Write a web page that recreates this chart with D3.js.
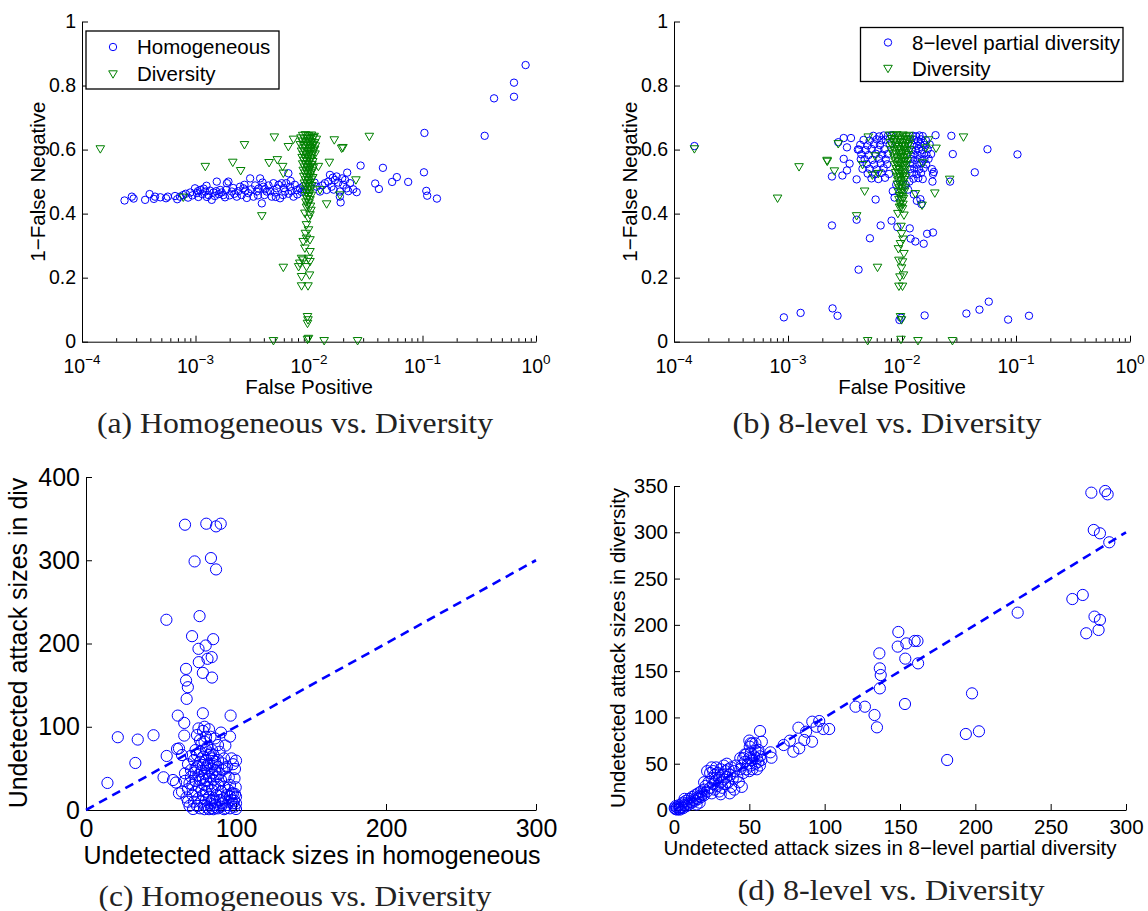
<!DOCTYPE html>
<html><head><meta charset="utf-8">
<script src="https://cdn.jsdelivr.net/npm/d3@7"></script>
<style>body{margin:0;background:#fff;} svg{display:block}</style>
</head><body>
<svg id="chart" width="1148" height="911"></svg>
<script>
// ---------------- DATA ----------------
// Panel (a): [False Positive, 1-False Negative]
const homogeneousA = [
[0.81,0.864],[0.64,0.809],[0.64,0.765],[0.427,0.76],[0.353,0.643],[0.104,0.652],[0.103,0.529],[0.108,0.471],[0.11,0.456],[0.134,0.447],
[0.0748,0.499],[0.0594,0.514],[0.054,0.499],[0.0448,0.543],[0.0383,0.494],[0.0413,0.477],[0.0285,0.55],[0.0217,0.528],[0.0263,0.467],[0.019,0.435],[0.0245,0.476],
[0.0117,0.484],[0.0125,0.469],[0.0138,0.495],[0.0143,0.474],[0.0153,0.521],[0.0158,0.484],[0.0169,0.505],[0.0175,0.516],[0.0181,0.497],[0.0187,0.469],[0.02,0.49],
[0.0214,0.479],[0.023,0.495],[0.0187,0.453],[0.0162,0.512],[0.0148,0.5],[0.0131,0.488],[0.0112,0.497],[0.0208,0.505],[0.0222,0.47],[0.0196,0.51],[0.0165,0.475],
[2.37e-4,0.441],[2.75e-4,0.453],[2.85e-4,0.447],[3.6e-4,0.443],[3.94e-4,0.461],[4.3e-4,0.446],[4.4e-4,0.453],[4.9e-4,0.451],[5.5e-4,0.448],[5.7e-4,0.453],
[6.6e-4,0.455],[6.9e-4,0.445],[7.3e-4,0.453],[7.8e-4,0.458],[9.0e-4,0.466],[9.9e-4,0.479],[1.03e-3,0.464],[1.1e-3,0.474],[1.22e-3,0.469],[1.3e-3,0.458],
[1.39e-3,0.443],[1.44e-3,0.466],[1.54e-3,0.5],[1.65e-3,0.474],[1.76e-3,0.458],[1.89e-3,0.495],[1.95e-3,0.5],[2.09e-3,0.469],[2.31e-3,0.453],[2.47e-3,0.484],
[2.64e-3,0.479],[2.92e-3,0.464],[3.03e-3,0.51],[3.24e-3,0.453],[3.46e-3,0.469],[3.71e-3,0.51],[3.84e-3,0.432],[3.97e-3,0.484],[4.24e-3,0.469],[4.7e-3,0.453],
[4.86e-3,0.495],[5.2e-3,0.479],[5.56e-3,0.448],[5.75e-3,0.495],[6.15e-3,0.469],[6.58e-3,0.526],[6.8e-3,0.484],[7.3e-3,0.453],[7.8e-3,0.474],[8.3e-3,0.479],
[8.2e-4,0.462],[8.6e-4,0.45],[9.4e-4,0.457],[1.06e-3,0.452],[1.15e-3,0.461],[1.18e-3,0.478],[1.26e-3,0.452],[1.34e-3,0.472],[1.48e-3,0.455],[1.52e-3,0.47],
[1.6e-3,0.461],[1.7e-3,0.466],[1.82e-3,0.451],[1.86e-3,0.474],[2.0e-3,0.457],[2.15e-3,0.48],[2.2e-3,0.462],[2.38e-3,0.47],[2.55e-3,0.458],[2.75e-3,0.472],
[2.83e-3,0.449],[3.1e-3,0.476],[3.35e-3,0.488],[3.55e-3,0.457],[3.6e-3,0.478],[4.05e-3,0.458],[4.4e-3,0.488],[4.55e-3,0.47],[5.0e-3,0.466],[5.4e-3,0.49],
[5.9e-3,0.458],[6.3e-3,0.495],[6.6e-3,0.462],[7.0e-3,0.47],[7.5e-3,0.49],[7.9e-3,0.46],[8.6e-3,0.468],[8.9e-3,0.486],[9.2e-3,0.474],[1.25e-3,0.487],
[1.05e-3,0.47],[2.7e-3,0.49],[3.9e-3,0.497],[4.1e-3,0.476],[6.0e-3,0.48],[6.9e-3,0.502],[5.1e-3,0.452]
];
const diversityA = [
[1.45e-4,0.602],[1.22e-3,0.547],[7.8e-4,0.451],[2.13e-3,0.56],[2.5e-3,0.534],[2.7e-3,0.615],[4.95e-3,0.639],[4.45e-3,0.559],[5.26e-3,0.568],[5.86e-3,0.547],
[5.94e-3,0.526],[6.58e-3,0.609],[3.84e-3,0.393],[5.94e-3,0.232],[7.3e-3,0.632],[0.0167,0.63],[0.0194,0.604],[0.0199,0.606],[0.034,0.641],[0.0151,0.56],
[0.0121,0.547],[0.0125,0.474],[0.0143,0.43],[0.0187,0.458],[0.0259,0.505],[4.86e-3,0.003],[0.0136,0.003],[0.0268,0.003],[0.0097,0.007],[0.0099,0.01],
[0.0092,0.401],[0.0102,0.396],[0.0095,0.365],[0.0099,0.349],[0.0095,0.323],[0.0102,0.318],[0.0089,0.3125],[0.0092,0.292],[0.0102,0.281],[0.0086,0.26],
[0.0099,0.26],[0.0089,0.255],[0.0083,0.245],[0.0102,0.25],[0.0081,0.234],[0.0095,0.234],[0.0086,0.203],[0.0101,0.208],[0.0086,0.174],[0.0098,0.174],
[0.0097,0.078],[0.0098,0.068],[0.0097,0.057],[0.0095,0.42],[0.0104,0.41],[0.0099,0.385],[0.0093,0.338],
[0.0088,0.644],[0.0093,0.646],[0.0099,0.643],[0.0105,0.645],[0.0111,0.641],
[0.0085,0.636],[0.0091,0.633],[0.0097,0.638],[0.0103,0.634],[0.0109,0.637],[0.0116,0.632],
[0.0087,0.626],[0.0094,0.622],[0.0099,0.627],[0.0106,0.624],[0.0112,0.621],
[0.0084,0.615],[0.009,0.612],[0.0096,0.617],[0.0102,0.613],[0.0108,0.616],[0.0114,0.611],
[0.0088,0.604],[0.0094,0.607],[0.0101,0.602],[0.0106,0.606],[0.0112,0.601],
[0.0086,0.595],[0.0092,0.592],[0.0098,0.597],[0.0104,0.593],[0.011,0.596],
[0.0089,0.585],[0.0095,0.582],[0.0101,0.587],[0.0107,0.583],[0.0113,0.586],
[0.0087,0.575],[0.0093,0.572],[0.0099,0.577],[0.0105,0.573],
[0.009,0.566],[0.0096,0.563],[0.0102,0.567],[0.0108,0.562],
[0.0088,0.555],[0.0094,0.552],[0.01,0.557],[0.0106,0.553],
[0.0091,0.545],[0.0097,0.542],[0.0103,0.547],[0.0109,0.543],
[0.0089,0.535],[0.0095,0.532],[0.0101,0.537],[0.0107,0.533],
[0.0092,0.526],[0.0098,0.523],[0.0104,0.527],
[0.009,0.516],[0.0096,0.513],[0.0102,0.517],[0.0108,0.512],
[0.0093,0.505],[0.0099,0.502],[0.0105,0.507],
[0.0091,0.495],[0.0097,0.492],[0.0103,0.497],
[0.0094,0.486],[0.01,0.483],[0.0106,0.487],
[0.0092,0.476],[0.0098,0.473],[0.0104,0.477],
[0.0095,0.466],[0.0101,0.463],
[0.0093,0.456],[0.0099,0.453],[0.0105,0.457],
[0.0096,0.446],[0.0102,0.443],
[0.0094,0.436],[0.01,0.433],
[0.0097,0.426],[0.0103,0.423]
];
// Panel (b)
const eightLevelB = [
[1.51e-4,0.611],[9.2e-4,0.076],[1.29e-3,0.09],[2.46e-3,0.104],[2.72e-3,0.081],[2.43e-3,0.363],[4.0e-3,0.381],[4.16e-3,0.225],[5.23e-3,0.323],[5.87e-3,0.444],
[6.5e-3,0.363],[8.1e-3,0.378],[9.1e-3,0.358],[0.0117,0.354],[0.0119,0.322],[0.0131,0.313],[0.0155,0.306],[0.0166,0.337],[0.0187,0.341],[0.0158,0.082],
[0.0367,0.088],[0.0478,0.1],[0.0577,0.125],[0.0853,0.069],[0.13,0.081],[0.0562,0.601],[0.103,0.585],[0.0435,0.529],[0.0279,0.586],[0.0271,0.643],
[0.0264,0.5],[0.0197,0.645],[0.0095,0.068],[0.0098,0.075],
[3.08e-3,0.636],[3.57e-3,0.636],[2.76e-3,0.623],[3.29e-3,0.607],[3.08e-3,0.571],[3.47e-3,0.556],[3.0e-3,0.519],[2.43e-3,0.516],[3.29e-3,0.535],[4.0e-3,0.507],
[4.2e-3,0.6],[4.35e-3,0.57],[4.5e-3,0.54],
[5.6e-3,0.643],[6.3e-3,0.641],[6.9e-3,0.644],[7.5e-3,0.642],[8.1e-3,0.645],[0.0125,0.643],[0.0133,0.641],[0.0142,0.644],[0.0152,0.642],
[4.6e-3,0.63],[5.2e-3,0.628],[6.0e-3,0.632],[6.6e-3,0.629],[7.2e-3,0.631],[0.0128,0.63],[0.0138,0.627],[0.0147,0.632],[0.0162,0.629],
[4.3e-3,0.615],[5.0e-3,0.613],[5.7e-3,0.617],[6.4e-3,0.614],[7.8e-3,0.616],[0.0123,0.615],[0.0135,0.612],[0.0145,0.617],[0.0158,0.614],[0.0175,0.616],
[4.1e-3,0.6],[4.8e-3,0.598],[5.4e-3,0.602],[6.2e-3,0.599],[7.0e-3,0.601],[0.0121,0.6],[0.0131,0.597],[0.0141,0.602],[0.0152,0.599],[0.0168,0.601],
[4.4e-3,0.585],[5.1e-3,0.583],[5.9e-3,0.587],[6.7e-3,0.584],[7.5e-3,0.586],[0.0126,0.585],[0.0137,0.582],[0.0149,0.587],[0.0164,0.584],[0.018,0.586],
[4.7e-3,0.57],[5.5e-3,0.568],[6.3e-3,0.572],[7.2e-3,0.569],[0.0119,0.571],[0.013,0.568],[0.0143,0.572],[0.0157,0.569],[0.0171,0.571],
[4.9e-3,0.555],[5.7e-3,0.553],[6.5e-3,0.557],[7.4e-3,0.554],[0.0124,0.556],[0.0135,0.553],[0.0148,0.557],[0.0163,0.554],
[5.2e-3,0.54],[6.0e-3,0.538],[6.9e-3,0.542],[0.0118,0.539],[0.0128,0.541],[0.0141,0.538],[0.0155,0.542],[0.0183,0.539],
[5.0e-3,0.525],[5.8e-3,0.523],[6.6e-3,0.527],[7.7e-3,0.524],[0.0122,0.526],[0.0134,0.523],[0.0147,0.527],[0.0187,0.524],[0.019,0.53],
[5.4e-3,0.51],[6.2e-3,0.508],[7.1e-3,0.512],[0.0126,0.509],[0.0139,0.511],[0.0152,0.508],
[0.0116,0.5],[0.0185,0.5],
[8.3e-3,0.47],[8.6e-3,0.45],[0.0127,0.46],[0.0135,0.44],[0.0145,0.445],[0.0148,0.43],[0.0108,0.49],[0.0113,0.475],[0.0089,0.49]
];
const diversityB = [
[1.51e-4,0.602],[8.1e-4,0.448],[1.25e-3,0.546],[2.21e-3,0.563],[2.76e-3,0.618],[2.55e-3,0.533],[4.0e-3,0.393],[5.06e-3,0.639],[4.51e-3,0.553],[6.1e-3,0.232],
[5.0e-3,0.003],[9.8e-3,0.007],[0.0138,0.003],[0.0277,0.003],[0.0346,0.639],[0.0262,0.507],[0.0194,0.464],[0.0171,0.63],[0.0199,0.604],[0.0152,0.558],
[0.015,0.426],[0.0131,0.462],[0.0099,0.068],[0.0097,0.078],[2.2e-3,0.566],[5.8e-3,0.58],[6.2e-3,0.525],[4.7e-3,0.47],[5.5e-3,0.52],[0.0162,0.605],
[0.0092,0.4],[0.0104,0.395],[0.0099,0.337],[0.0097,0.306],[0.0104,0.275],[0.0094,0.254],[0.0101,0.249],[0.0096,0.202],[0.0103,0.208],[0.0094,0.173],
[0.0101,0.173],[0.0098,0.36],[0.0102,0.32],[0.0093,0.29],[0.0099,0.23],[0.0095,0.42],
[0.0078,0.645],[0.0084,0.643],[0.009,0.646],[0.0096,0.642],[0.0102,0.645],[0.0108,0.641],[0.0115,0.644],
[0.0081,0.634],[0.0087,0.631],[0.0093,0.636],[0.0099,0.632],[0.0105,0.635],[0.0112,0.63],[0.0118,0.633],
[0.0079,0.622],[0.0085,0.625],[0.0091,0.62],[0.0097,0.624],[0.0103,0.621],[0.0109,0.626],[0.0116,0.619],
[0.0082,0.611],[0.0088,0.614],[0.0094,0.609],[0.01,0.613],[0.0106,0.61],[0.0113,0.612],
[0.008,0.6],[0.0086,0.597],[0.0092,0.602],[0.0098,0.598],[0.0104,0.601],[0.011,0.596],[0.0117,0.599],
[0.0083,0.588],[0.0089,0.585],[0.0095,0.59],[0.0101,0.586],[0.0107,0.589],[0.0114,0.584],
[0.0085,0.576],[0.0091,0.573],[0.0097,0.578],[0.0103,0.574],[0.0109,0.577],
[0.0087,0.564],[0.0093,0.561],[0.0099,0.566],[0.0105,0.562],[0.0111,0.565],
[0.0086,0.552],[0.0092,0.549],[0.0098,0.554],[0.0104,0.55],[0.011,0.553],
[0.0089,0.54],[0.0095,0.537],[0.0101,0.542],[0.0107,0.538],
[0.0088,0.528],[0.0094,0.525],[0.01,0.53],[0.0106,0.526],
[0.009,0.516],[0.0096,0.513],[0.0102,0.518],[0.0108,0.514],
[0.0092,0.504],[0.0098,0.501],[0.0104,0.506],
[0.0091,0.492],[0.0097,0.489],[0.0103,0.494],
[0.0094,0.48],[0.01,0.477],[0.0106,0.482],
[0.0093,0.468],[0.0099,0.465],[0.0105,0.47],
[0.0095,0.456],[0.0101,0.453],
[0.0094,0.444],[0.01,0.441],[0.0103,0.447],
[0.0096,0.432],[0.0102,0.429],
[0.0098,0.42],[0.0101,0.415]
];
// Panel (c): [homogeneous, diversity] undetected attack sizes
const sizesC = [
[66,342.7],[80.2,343.9],[86.7,340.7],[89.8,343.9],[72.4,298.6],[83.3,302.6],[86.7,289],[53.6,228.5],[75.7,232.9],[70.7,208.8],
[84.8,205.2],[75,193.6],[79.8,197.6],[81,181.6],[83.8,183.6],[75.2,177.6],[77.9,164.7],[84,159.1],[66.7,169.5],[66.7,155.5],
[67.9,147.5],[67.1,133.5],[61.2,113.4],[65.5,104.6],[77.9,116.2],[96.4,113.4],[21.2,87.4],[34.5,84.6],[45,89.8],[14.3,32.5],
[32.9,56.5],[53.8,64.9],[51.7,39.3],[96,88.2],[92.9,77.4],[60.7,73.3],[65.5,89.4],[100,59.3],[99.3,49.3],[99.8,27.3],
[99.3,19.2],[98.8,11.2],[100,1.2],[95.2,39.3],[71.4,1.2],
[62,74],[64,66],[58,36],[60,33],[62,20],[64,22],[66,44],[68,25],[68,10],[69,5],[70,48],[72,60],[73,72],[74,90],[75,98],
[76,84],[78,95],[79,100],[80,88],[81,76],[82,97],[83,68],[84,72],[86,86],[88,78],[90,93],[92,62],[94,52],[96,30],[97,20],
[98,8],[99,4],[97,62],[98,55],[99,38],
[70,40],[71,30],[71,18],[72,45],[72,10],[73,35],[73,22],[74,52],[74,5],[75,42],[75,28],[75,14],[76,58],[76,36],[76,2],
[77,47],[77,24],[77,10],[78,54],[78,38],[78,18],[79,44],[79,30],[79,6],[80,60],[80,50],[80,36],[80,22],[80,12],[81,45],
[81,28],[81,3],[82,56],[82,40],[82,16],[83,50],[83,32],[83,8],[84,44],[84,24],[84,2],[85,55],[85,36],[85,14],[86,48],
[86,28],[86,6],[87,40],[87,18],[88,52],[88,30],[88,2],[89,44],[89,12],[90,36],[90,22],[90,4],[91,48],[91,8],[92,28],
[92,14],[93,40],[93,2],[94,18],[94,6],[95,24],[95,10],[96,2],[97,12],[98,20],[100,8],[100,16],[78,64],[82,66],[84,62],
[86,58],[88,60],[76,70],[80,72],[77,80],[70,65],[68,55],[66,35],[67,15],[69,32],[73,50],[74,66],[83,88],[79,82],[81,54],
[85,66],[91,56],[93,50],[89,70],[87,3],[85,1],[82,1],[79,1],[96,16],[92,1],[90,12],[86,10],[84,12]
];
// Panel (d): [8-level partial diversity, diversity]
const sizesD = [
[277,342.8],[286.2,344.6],[287.8,341],[278.6,302.5],[282.7,298.9],[288.9,289.2],[264.4,227.9],[271.3,232.3],[279.1,208.9],[282.7,205.3],
[273.6,190.9],[281.8,194.5],[228.1,213.2],[197.8,126],[193.7,82.1],[202.4,85],[181.3,54],[148.9,192.3],[148.5,176.5],[154.2,180],
[159.7,182.6],[161.6,182.6],[153.5,163.5],[162,158.4],[153.3,114.5],[136.3,169.2],[136.6,153],[137.2,145.8],[136.6,131.4],[120.5,111.6],
[126.7,111.6],[133.1,102.6],[134.7,89.3],[82.6,88.9],[87.7,84.6],[91.8,95.4],[96.4,96.1],[94.6,89.9],[99.1,87.5],[103,87.5],
[86.5,75.6],[91.6,73.8],[76.9,74.9],[72.8,70.2],[79.2,63],[83.1,66.6],[57.1,85.3],[58.3,73.8],[50.9,72],[50.3,68.4],
[64,62.3],[64.7,56.5],
[1,1],[2,3],[3,1],[3,5],[4,2],[5,6],[5,3],[6,8],[6,2],[7,5],[8,10],[8,4],[9,7],[10,12],[10,6],[11,9],[12,14],[12,8],[13,11],
[14,16],[14,10],[15,13],[16,18],[16,12],[17,15],[18,20],[18,14],[19,17],[20,22],[20,16],[2,0.5],[4,0.5],[1,4],[0.5,2],[7,12],
[15,6],[17,8],
[21,26],[22,20],[23,30],[24,24],[24,40],[25,18],[25,34],[26,28],[26,42],[27,22],[27,38],[28,32],[28,46],[29,26],[29,40],
[30,35],[30,20],[31,44],[31,30],[32,38],[32,24],[33,48],[33,33],[34,42],[34,28],[35,36],[35,50],[36,30],[36,44],[37,38],
[38,46],[38,25],[39,34],[40,42],[40,22],[41,48],[42,36],[43,30],[44,44],[22,42],[20,30],[25,46],[31,17],[37,18],[45,25],
[45,48],[46,56],[46,40],[47,52],[48,44],[48,60],[49,50],[50,56],[50,42],[51,62],[51,48],[52,54],[52,44],[53,58],[54,50],
[54,64],[55,56],[56,52],[56,62],[57,48],[57,58],[58,54],[50,75],[52,72],[54,72],[56,65],[47,60],[44,56],[55,44]
];
const referenceLine = [[0,0],[300,300]];

const logExponents = [-4,-3,-2,-1,0];
const probTicks = [0,0.2,0.4,0.6,0.8,1];
const ticksCx = [0,100,200,300];
const ticksCy = [0,100,200,300,400];
const ticksDx = [0,50,100,150,200,250,300];
const ticksDy = [0,50,100,150,200,250,300,350];

const legendA = ["Homogeneous","Diversity"];
const legendB = ["8\u2212level partial diversity","Diversity"];
const captions = ["(a) Homogeneous vs. Diversity","(b) 8-level vs. Diversity","(c) Homogeneous vs. Diversity","(d) 8-level vs. Diversity"];

// ---------------- DRAW ----------------
const SANS = "'Liberation Sans', Arial, Helvetica, sans-serif";
const SERIF = "'Liberation Serif', 'Times New Roman', Times, serif";
const BLUE = '#0000ff', GREEN = '#008000';
const svg = d3.select('#chart');
const triPath = 'M-4.3,-3.2L4.3,-3.2L0,4.2Z';

function styleAxis(g, fs){
  g.select('.domain').attr('stroke','#000').attr('stroke-width',1);
  g.selectAll('.tick line').attr('stroke','#000').attr('stroke-width',1);
  g.attr('font-family', SANS).attr('font-size', fs);
  g.selectAll('.tick text').attr('fill','#000');
}

function caption(text, cx, cy, w){
  svg.append('text').attr('x',cx - w/2).attr('y',cy)
    .attr('font-family',SERIF).attr('font-size',29).attr('fill','#222')
    .attr('textLength',w).attr('lengthAdjust','spacingAndGlyphs').text(text);
}

function logPanel(o){
  const x = d3.scaleLog().domain([1e-4,1]).range([o.x0,o.x1]);
  const y = d3.scaleLinear().domain([0,1]).range([o.yb,o.yt]);
  const g = svg.append('g');
  const minor = [];
  logExponents.slice(0,-1).forEach(e=>{ for(let m=2;m<=9;m++) minor.push(m*Math.pow(10,e)); });
  g.append('g').attr('transform',`translate(0,${o.yb})`)
    .call(d3.axisBottom(x).tickValues(minor).tickSize(-3.5).tickSizeOuter(0).tickFormat(''))
    .call(a=>{styleAxis(a,19); a.select('.domain').remove();});
  const xa = g.append('g').attr('transform',`translate(0,${o.yb})`)
    .call(d3.axisBottom(x).tickValues(logExponents.map(e=>Math.pow(10,e))).tickSize(-6).tickSizeOuter(0).tickFormat(''));
  styleAxis(xa,19.5);
  const ya = g.append('g').attr('transform',`translate(${o.x0},0)`)
    .call(d3.axisLeft(y).tickValues(probTicks).tickSize(-6).tickSizeOuter(0).tickPadding(6).tickFormat(d3.format('~g')));
  styleAxis(ya,19.5);
  logExponents.forEach(e=>{
    const t = g.append('text').attr('x', x(Math.pow(10,e))).attr('y', o.yb+31)
      .attr('text-anchor','middle').attr('font-family',SANS).attr('font-size',19.5).attr('fill','#000');
    t.append('tspan').text('10');
    t.append('tspan').attr('font-size',13.5).attr('dy',-9).text(e===0?'0':'\u2212'+(-e));
  });
  g.append('text').attr('x',(o.x0+o.x1)/2).attr('y',o.yb+52).attr('text-anchor','middle')
    .attr('font-family',SANS).attr('font-size',20.5).text('False Positive');
  g.append('text').attr('transform',`translate(${o.ylx},${(o.yt+o.yb)/2}) rotate(-90)`).attr('text-anchor','middle')
    .attr('font-family',SANS).attr('font-size',20.5).text('1\u2212False Negative');
  g.append('g').selectAll('circle').data(o.circles).join('circle')
    .attr('cx',d=>x(d[0])).attr('cy',d=>y(d[1])).attr('r',3.7)
    .attr('fill','none').attr('stroke',BLUE).attr('stroke-width',1);
  g.append('g').selectAll('path').data(o.tris).join('path')
    .attr('transform',d=>`translate(${x(d[0])},${y(d[1])})`).attr('d',triPath)
    .attr('fill','none').attr('stroke',GREEN).attr('stroke-width',1);
  const L = o.legend;
  g.append('rect').attr('x',L.x).attr('y',L.y).attr('width',L.w).attr('height',L.h)
    .attr('fill','#fff').attr('stroke','#000').attr('stroke-width',1.3);
  g.append('circle').attr('cx',L.mx).attr('cy',L.r1).attr('r',3.7).attr('fill','none').attr('stroke',BLUE);
  g.append('path').attr('transform',`translate(${L.mx},${L.r2})`).attr('d',triPath).attr('fill','none').attr('stroke',GREEN);
  [L.r1,L.r2].forEach((ry,i)=>{
    g.append('text').attr('x',L.tx).attr('y',ry+7).attr('font-family',SANS).attr('font-size',20.5).attr('fill','#000').text(L.labels[i]);
  });
  caption(o.caption, o.capx, o.capy, o.capw);
}

logPanel({x0:82,x1:536,yt:21.5,yb:341.7,ylx:45,circles:homogeneousA,tris:diversityA,
  legend:{x:86,y:31,w:193,h:58,mx:113,r1:47,r2:74,tx:137,labels:legendA},
  capx:295,capy:433,capw:396,caption:captions[0]});
logPanel({x0:674,x1:1130,yt:21.5,yb:341.7,ylx:637,circles:eightLevelB,tris:diversityB,
  legend:{x:860.5,y:27.5,w:262.5,h:54,mx:888,r1:42.5,r2:68.5,tx:912,labels:legendB},
  capx:887,capy:433,capw:309,caption:captions[1]});

function linPanel(o){
  const x = d3.scaleLinear().domain([0,300]).range([o.x0,o.x1]);
  const y = d3.scaleLinear().domain([0,o.ymax]).range([o.yb,o.yt]);
  const g = svg.append('g');
  const xa = g.append('g').attr('transform',`translate(0,${o.yb})`)
    .call(d3.axisBottom(x).tickValues(o.xt).tickSize(-6).tickSizeOuter(0).tickPadding(o.xpad).tickFormat(d3.format('d')));
  styleAxis(xa,o.fs);
  const ya = g.append('g').attr('transform',`translate(${o.x0},0)`)
    .call(d3.axisLeft(y).tickValues(o.yt2).tickSize(-6).tickSizeOuter(0).tickPadding(6).tickFormat(d3.format('d')));
  styleAxis(ya,o.fs);
  g.append('text').attr('x',o.xlx).attr('y',o.xly).attr('text-anchor','middle')
    .attr('font-family',SANS).attr('font-size',o.lfs).text(o.xlabel);
  g.append('text').attr('transform',`translate(${o.ylx},${o.yly}) rotate(-90)`).attr('text-anchor','middle')
    .attr('font-family',SANS).attr('font-size',o.lfs).text(o.ylabel);
  g.append('g').selectAll('circle').data(o.data).join('circle')
    .attr('cx',d=>x(d[0])).attr('cy',d=>y(d[1])).attr('r',5.6)
    .attr('fill','none').attr('stroke',BLUE).attr('stroke-width',1);
  g.append('path').datum(referenceLine)
    .attr('d',d3.line().x(d=>x(d[0])).y(d=>y(d[1])))
    .attr('fill','none').attr('stroke',BLUE).attr('stroke-width',2.6).attr('stroke-dasharray','9,6');
  caption(o.caption, o.capx, o.capy, o.capw);
}

linPanel({x0:86,x1:536,yb:810,yt:477,ymax:400,xt:ticksCx,yt2:ticksCy,fs:25,lfs:25,xpad:9,
  xlabel:'Undetected attack sizes in homogeneous',xlx:312,xly:864,
  ylabel:'Undetected attack sizes in div',ylx:27,yly:643,data:sizesC,
  capx:295,capy:906,capw:393,caption:captions[2]});
linPanel({x0:674,x1:1126,yb:810,yt:486,ymax:350,xt:ticksDx,yt2:ticksDy,fs:20.5,lfs:20.5,xpad:9,
  xlabel:'Undetected attack sizes in 8\u2212level partial diversity',xlx:890,xly:855,
  ylabel:'Undetected attack sizes in diversity',ylx:625,yly:648,data:sizesD,
  capx:891,capy:900,capw:307,caption:captions[3]});
</script>
</body></html>
